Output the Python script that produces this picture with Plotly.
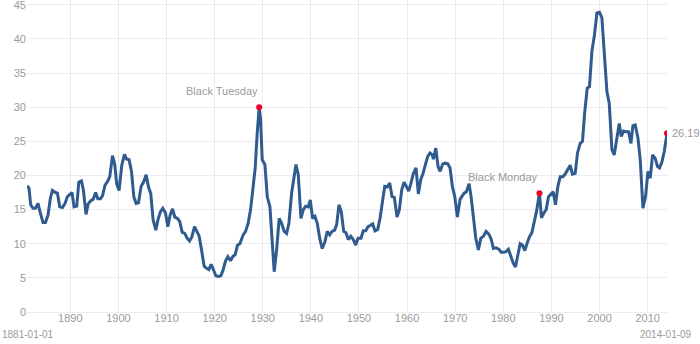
import plotly.graph_objects as go

# Cyclically adjusted P/E ratio (semi-annual samples)
years = [
    1881.00, 1881.42, 1881.77, 1882.25, 1882.75, 1883.29, 1883.70, 1884.33, 1884.83, 1885.37,
    1885.87, 1886.28, 1886.91, 1887.32, 1887.80, 1888.36, 1888.91, 1889.40, 1890.03, 1890.36,
    1890.78, 1891.34, 1891.76, 1892.32, 1892.73, 1893.27, 1893.69, 1894.25, 1894.73, 1895.29,
    1895.71, 1896.27, 1896.69, 1897.23, 1897.73, 1898.20, 1898.77, 1899.24, 1899.66, 1900.14,
    1900.70, 1901.26, 1901.68, 1902.22, 1902.72, 1903.20, 1903.68, 1904.17, 1904.72, 1905.28,
    1905.76, 1906.26, 1906.73, 1907.21, 1907.77, 1908.25, 1908.75, 1909.23, 1909.79, 1910.27,
    1910.75, 1911.25, 1911.73, 1912.29, 1912.77, 1913.24, 1913.81, 1914.28, 1914.78, 1915.26,
    1915.82, 1916.30, 1916.78, 1917.28, 1917.82, 1918.32, 1918.80, 1919.28, 1919.78, 1920.26,
    1920.73, 1921.30, 1921.77, 1922.27, 1922.75, 1923.31, 1923.73, 1924.27, 1924.77, 1925.25,
    1925.93, 1926.43, 1926.97, 1927.47, 1928.01, 1928.43, 1928.85, 1929.26, 1929.55, 1929.89,
    1930.45, 1930.93, 1931.49, 1931.97, 1932.38, 1932.88, 1933.42, 1933.92, 1934.46, 1934.96,
    1935.44, 1936.00, 1936.48, 1936.90, 1937.38, 1937.94, 1938.42, 1938.92, 1939.46, 1939.87,
    1940.37, 1940.85, 1941.33, 1941.89, 1942.37, 1942.93, 1943.41, 1943.91, 1944.39, 1944.95,
    1945.36, 1945.84, 1946.32, 1946.82, 1947.30, 1947.78, 1948.28, 1948.82, 1949.32, 1949.80,
    1950.42, 1950.90, 1951.40, 1951.88, 1952.44, 1952.85, 1953.33, 1953.89, 1954.37, 1954.85,
    1955.35, 1955.89, 1956.39, 1956.87, 1957.35, 1957.91, 1958.39, 1958.89, 1959.37, 1959.84,
    1960.34, 1960.82, 1961.30, 1961.86, 1962.34, 1962.84, 1963.32, 1963.80, 1964.30, 1964.77,
    1965.25, 1965.46, 1965.96, 1966.44, 1966.86, 1967.42, 1967.89, 1968.46, 1968.93, 1969.41,
    1969.91, 1970.45, 1971.01, 1971.37, 1971.85, 1972.33, 1972.89, 1973.30, 1973.78, 1974.28,
    1974.82, 1975.32, 1975.86, 1976.42, 1976.98, 1977.46, 1977.94, 1978.50, 1979.07, 1979.55,
    1980.02, 1980.58, 1981.06, 1981.56, 1982.04, 1982.52, 1983.02, 1983.50, 1983.97, 1984.47,
    1984.95, 1985.43, 1985.93, 1986.41, 1986.89, 1987.51, 1987.93, 1988.43, 1988.91, 1989.39,
    1989.88, 1990.36, 1990.84, 1991.34, 1991.82, 1992.38, 1992.86, 1993.34, 1993.90, 1994.37,
    1994.94, 1995.42, 1995.98, 1996.46, 1996.87, 1997.44, 1997.91, 1998.41, 1998.95, 1999.45,
    1999.99, 2000.49, 2000.97, 2001.53, 2002.01, 2002.57, 2003.05, 2003.61, 2004.09, 2004.51,
    2004.99, 2005.48, 2006.03, 2006.52, 2006.94, 2007.42, 2007.98, 2008.46, 2009.02, 2009.56,
    2010.06, 2010.54, 2011.02, 2011.58, 2012.06, 2012.47, 2012.97, 2013.45, 2014.02,
]

cape = [
    18.5, 18.1, 15.7, 15.2, 15.2, 15.9, 14.7, 13.1, 13.1, 14.2,
    16.7, 17.8, 17.5, 17.4, 15.4, 15.3, 15.9, 16.9, 17.3, 17.5,
    15.4, 15.5, 19.0, 19.2, 17.8, 14.3, 15.8, 16.3, 16.5, 17.5,
    16.6, 16.6, 17.0, 18.6, 19.1, 19.8, 22.9, 21.6, 18.7, 17.8,
    21.5, 23.1, 22.4, 22.3, 20.6, 16.9, 15.9, 16.0, 18.4, 19.1,
    20.1, 18.3, 17.3, 13.5, 12.0, 13.6, 14.7, 15.2, 14.5, 12.5,
    14.2, 15.1, 13.9, 13.7, 13.2, 11.7, 11.5, 10.8, 10.4, 11.0,
    12.5, 11.9, 11.1, 9.1, 6.7, 6.4, 6.2, 7.0, 6.2, 5.3,
    5.2, 5.3, 6.2, 7.5, 8.1, 7.5, 8.1, 8.4, 9.8, 10.0,
    11.3, 11.8, 13.0, 15.0, 18.4, 21.1, 26.2, 29.98, 28.2, 22.3,
    21.6, 16.9, 15.4, 10.1, 5.9, 9.1, 13.7, 13.0, 11.8, 11.5,
    13.0, 17.4, 19.8, 21.6, 20.1, 13.7, 15.0, 15.5, 15.4, 16.4,
    13.7, 14.0, 13.0, 10.6, 9.3, 10.3, 11.8, 11.3, 11.8, 12.0,
    12.8, 15.7, 14.7, 11.8, 11.6, 10.6, 11.1, 10.6, 9.8, 10.8,
    10.8, 11.9, 11.9, 12.5, 12.7, 12.9, 11.9, 12.1, 13.7, 15.9,
    18.4, 18.3, 18.9, 16.9, 16.8, 13.9, 15.0, 17.9, 19.0, 18.4,
    17.7, 18.9, 20.3, 21.1, 17.3, 19.4, 20.3, 21.6, 22.8, 23.3,
    23.0, 22.4, 24.0, 21.3, 20.6, 21.7, 21.8, 21.7, 21.1, 18.4,
    16.9, 13.9, 16.5, 16.9, 17.4, 17.6, 18.8, 16.9, 14.0, 10.8,
    9.1, 10.8, 11.1, 11.8, 11.4, 10.7, 9.3, 9.4, 9.2, 8.75,
    8.75, 8.85, 9.2, 8.1, 7.2, 6.6, 8.6, 10.0, 9.8, 9.0,
    10.1, 11.0, 11.6, 13.2, 14.7, 17.4, 13.8, 14.5, 15.0, 16.9,
    17.2, 17.6, 15.7, 18.4, 19.8, 19.8, 20.2, 20.8, 21.5, 20.2,
    20.3, 23.3, 24.7, 25.0, 28.9, 32.8, 33.0, 38.2, 40.6, 43.8,
    43.9, 43.1, 37.9, 32.3, 30.6, 23.8, 23.0, 25.7, 27.6, 25.7,
    26.5, 26.4, 26.4, 24.7, 27.3, 27.4, 25.5, 22.3, 15.2, 16.9,
    20.6, 19.6, 23.0, 22.5, 21.3, 21.1, 22.0, 23.5, 26.19,
]

# Highlighted events: (index into the series, label)
events_idx = [97, 215]
events_text = ["Black Tuesday", "Black Monday"]

start_label = "1881-01-01"
end_label = "2014-01-09"

y_ticks = list(range(0, 46, 5))
x_ticks = list(range(1890, 2011, 10))

line_color = "#2f5b8e"
dot_color = "#f0002a"
text_color = "#9a9a9a"
grid_color = "#ebebf3"
font_family = "Liberation Sans, Arial, sans-serif"

fig = go.Figure()

fig.add_trace(go.Scatter(
    x=years, y=cape, mode="lines",
    line=dict(color=line_color, width=3),
    hoverinfo="x+y", showlegend=False,
))

# Red markers at the two crashes and at the latest value
mark_x = [years[i] for i in events_idx] + [years[-1]]
mark_y = [cape[i] for i in events_idx] + [cape[-1]]
fig.add_trace(go.Scatter(
    x=mark_x, y=mark_y, mode="markers",
    marker=dict(color=dot_color, size=6),
    showlegend=False, hoverinfo="skip",
))

annotations = []
for i, label in zip(events_idx, events_text):
    annotations.append(dict(
        x=years[i], y=cape[i], xref="x", yref="y",
        text=label, showarrow=False,
        xanchor="right", yanchor="bottom",
        xshift=1, yshift=8,
        font=dict(family=font_family, size=11, color=text_color),
    ))

annotations.append(dict(
    x=years[-1], y=cape[-1], xref="x", yref="y",
    text=f"{cape[-1]:.2f}", showarrow=False,
    xanchor="left", yanchor="middle", xshift=3,
    font=dict(family=font_family, size=11, color=text_color),
))

annotations.append(dict(
    x=0, y=0, xref="paper", yref="paper",
    text=start_label, showarrow=False,
    xanchor="left", yanchor="top", xshift=-27, yshift=-15,
    font=dict(family=font_family, size=10, color=text_color),
))
annotations.append(dict(
    x=1, y=0, xref="paper", yref="paper",
    text=end_label, showarrow=False,
    xanchor="right", yanchor="top", xshift=27, yshift=-15,
    font=dict(family=font_family, size=10, color=text_color),
))

fig.update_layout(
    width=700, height=344,
    margin=dict(l=27, r=33, t=0, b=32, autoexpand=False),
    paper_bgcolor="white", plot_bgcolor="white",
    font=dict(family=font_family, size=11, color=text_color),
    annotations=annotations,
    xaxis=dict(
        range=[years[0], years[-1]],
        tickmode="array",
        tickvals=x_ticks,
        ticktext=[str(v) for v in x_ticks],
        ticklabelstandoff=-2,
        showgrid=True, gridcolor=grid_color, gridwidth=1,
        zeroline=False, showline=False, ticks="",
        tickfont=dict(size=11, color=text_color),
    ),
    yaxis=dict(
        range=[0, 45.7],
        tickmode="array", tickvals=y_ticks,
        ticktext=[str(v) for v in y_ticks],
        ticklabeloverflow="allow",
        showgrid=True, gridcolor=grid_color, gridwidth=1,
        zeroline=True, zerolinecolor=grid_color, zerolinewidth=1,
        showline=False, ticks="", automargin=False,
        tickfont=dict(size=11, color=text_color),
    ),
)

fig.write_html("out.html")
